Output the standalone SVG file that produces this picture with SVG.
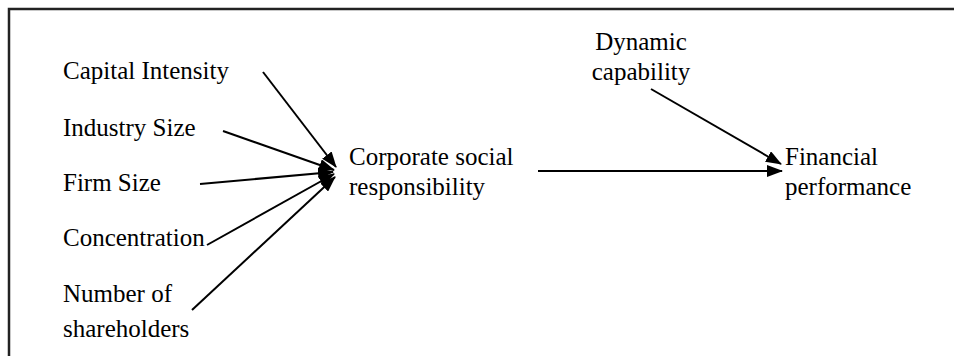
<svg xmlns="http://www.w3.org/2000/svg" width="954" height="356" viewBox="0 0 954 356">
<style>
.t{font-family:"Liberation Serif","Times New Roman",serif;font-size:25px;fill:#000}
.c{stroke:#000;stroke-width:2;fill:none}
.b{stroke:#222;stroke-width:2.5;fill:none}
</style>
<defs>
<marker id="ah" markerUnits="userSpaceOnUse" markerWidth="16" markerHeight="12" refX="15" refY="6" orient="auto">
<path d="M0,0 L16,6 L0,12 Z" fill="#000"/>
</marker>
</defs>
<rect width="954" height="356" fill="#fff"/>
<path class="b" d="M9,356 L9,9 L954,9"/>
<g id="capital"><text class="t" x="63" y="79">Capital Intensity</text></g>
<g id="industry"><text class="t" x="63" y="136">Industry Size</text></g>
<g id="firm"><text class="t" x="63" y="191">Firm Size</text></g>
<g id="concentration"><text class="t" x="63" y="246">Concentration</text></g>
<g id="shareholders"><text class="t" x="63" y="302">Number of</text><text class="t" x="63" y="337">shareholders</text></g>
<g id="csr"><text class="t" x="349" y="165">Corporate social</text><text class="t" x="349" y="195">responsibility</text></g>
<g id="dynamic"><text class="t" x="641" y="50" text-anchor="middle">Dynamic</text><text class="t" x="641" y="80" text-anchor="middle">capability</text></g>
<g id="financial"><text class="t" x="785" y="165">Financial</text><text class="t" x="785" y="195">performance</text></g>
<g id="connectors">
<line class="c" x1="263" y1="72" x2="336" y2="167" marker-end="url(#ah)"/>
<line class="c" x1="223" y1="131" x2="334" y2="170" marker-end="url(#ah)"/>
<line class="c" x1="200" y1="184" x2="333" y2="172" marker-end="url(#ah)"/>
<line class="c" x1="207" y1="245" x2="334" y2="174" marker-end="url(#ah)"/>
<line class="c" x1="192" y1="310" x2="335" y2="177" marker-end="url(#ah)"/>
<line class="c" x1="538" y1="171" x2="782" y2="171" marker-end="url(#ah)"/>
<line class="c" x1="651" y1="89" x2="781" y2="164" marker-end="url(#ah)"/>
</g>
</svg>
